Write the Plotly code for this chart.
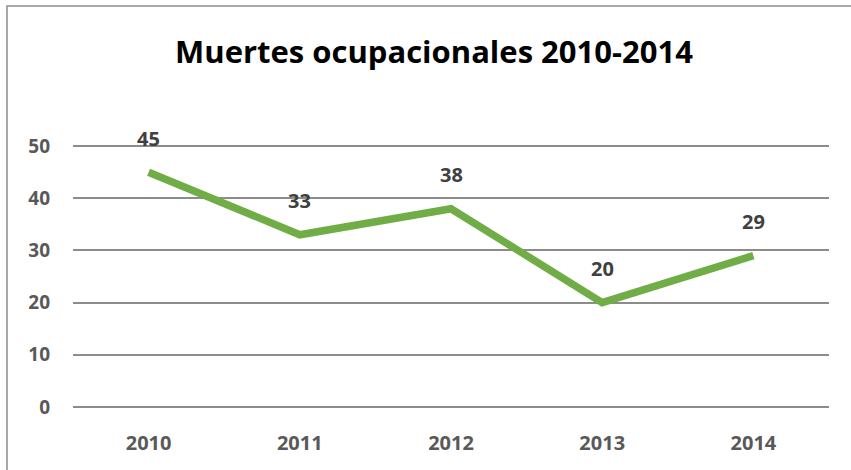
import plotly.graph_objects as go

years = ["2010", "2011", "2012", "2013", "2014"]
deaths = [45, 33, 38, 20, 29]
y_ticks = [0, 10, 20, 30, 40, 50]

W, H = 851, 470
L, R, T, B = 73, 22, 144, 61
pw, ph = W - L - R, H - T - B

fig = go.Figure()
fig.add_trace(go.Scatter(
    x=years, y=deaths, mode="lines",
    line=dict(color="#70AD47", width=7.5),
    hoverinfo="skip",
))

for i, v in enumerate(deaths):
    fig.add_annotation(x=i, y=v, xref="x", yref="y", text=str(v), showarrow=False,
                       yanchor="middle", xanchor="center", yshift=34,
                       font=dict(family="Open Sans", size=20, color="#404040", weight="bold"))

fig.update_layout(
    width=W, height=H,
    margin=dict(l=L, r=R, t=T, b=B),
    paper_bgcolor="white", plot_bgcolor="white",
    showlegend=False,
    title=dict(text="<b>Muertes ocupacionales 2010-2014</b>", x=434 / W,
               xref="container", xanchor="center",
               y=1 - 52 / H, yanchor="middle",
               font=dict(family="Open Sans", size=31, color="#000000")),
    xaxis=dict(type="category", range=[-0.5, 4.5], showgrid=False, zeroline=False,
               showline=False, ticks="", tickfont=dict(family="Open Sans", size=20, color="#595959", weight="bold"),
               ticklabelstandoff=20),
    yaxis=dict(range=[-0.4, 50.4], tickvals=y_ticks, showgrid=True, gridcolor="#8c8c8c", gridwidth=1.5,
               zeroline=False, showline=False, ticks="",
               tickfont=dict(family="Open Sans", size=19, color="#595959", weight="bold"),
               ticklabelstandoff=22),
)

# outer chart border (top and left edges visible)
x0 = (7 - L) / pw
y1 = 1 + (T - 6) / ph
fig.add_shape(type="rect", xref="paper", yref="paper",
              x0=x0, x1=(W + 20 - L) / pw, y0=-(B + 20) / ph, y1=y1,
              line=dict(color="#8c8c8c", width=1.5), layer="below")

fig.write_html("out.html", config={"displayModeBar": False},
               post_script="document.body.style.margin='0';")
